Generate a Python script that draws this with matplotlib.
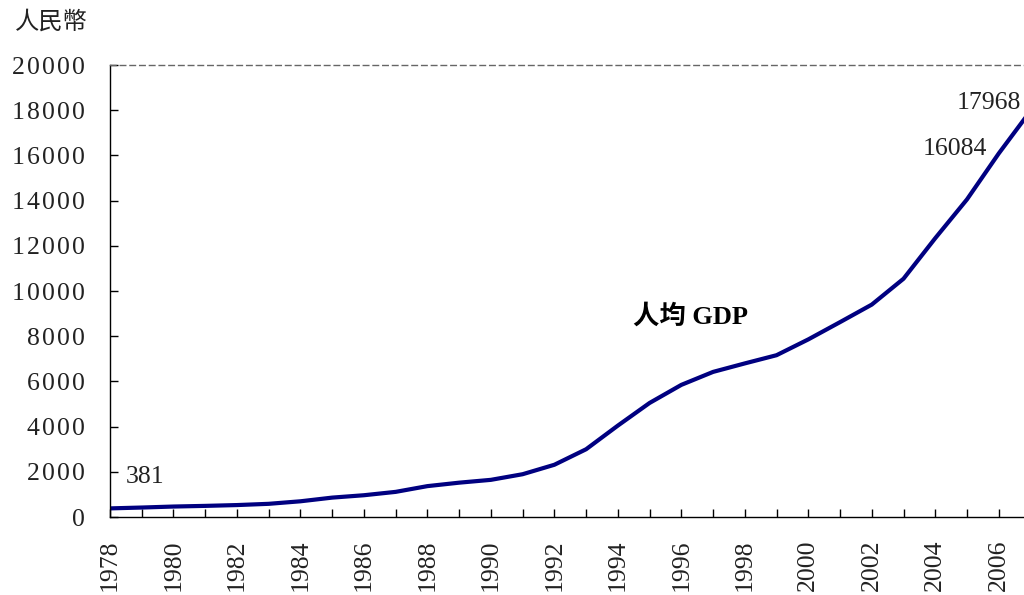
import matplotlib
matplotlib.use("Agg")
import matplotlib.pyplot as plt

# GDP per capita (RMB), 1978-2007
years = list(range(1978, 2008))
gdp_pc = [381, 419, 463, 492, 528, 583, 695, 858, 963, 1112,
          1366, 1519, 1644, 1893, 2311, 2998, 4044, 5046, 5846, 6420,
          6796, 7159, 7858, 8622, 9398, 10542, 12336, 14053, 16084, 17968]
y_ticks = list(range(0, 20001, 2000))
x_ticks = list(range(1978, 2007))
x_labels = [str(y) if y % 2 == 0 else "" for y in x_ticks]

SERIF = ["Liberation Serif", "DejaVu Sans", "Noto Sans CJK TC"]
CJK = ["Noto Sans CJK TC", "DejaVu Sans"]
NAVY = "#000080"
GREY_TXT = "#222222"


def spaced(s):
    # the original font sets its digits wide apart
    return "\u200a".join(s)


fig = plt.figure(figsize=(10.24, 5.95), dpi=100)
ax = fig.add_axes([110 / 1024, 1 - 517 / 595, 914 / 1024, 452 / 595])

ax.plot(years, gdp_pc, color=NAVY, lw=3.0, solid_joinstyle="round")

ax.set_xlim(1978, 1978 + 914 / 31.74)
ax.set_ylim(0, 20000)
ax.set_xticks(x_ticks)
ax.set_xticklabels(x_labels, rotation=90, family=SERIF, fontsize=18.5, color=GREY_TXT)
ax.set_yticks(y_ticks)
ax.set_yticklabels([spaced(str(v)) for v in y_ticks], family=SERIF, fontsize=18.5,
                   color=GREY_TXT)
ax.tick_params(axis="both", direction="in", length=6, width=1, color="black")
ax.tick_params(axis="x", pad=16)
ax.tick_params(axis="y", pad=18)

ax.spines["right"].set_visible(False)
ax.spines["left"].set_linewidth(1)
ax.spines["bottom"].set_linewidth(1)
ax.spines["top"].set_linestyle((0, (4, 3)))
ax.spines["top"].set_color("#666666")
ax.spines["top"].set_linewidth(1)

# annotations
ax.text(1978.5, 1750, "381", family=SERIF, fontsize=18.5, color=GREY_TXT,
        ha="left", va="center")
ax.text(2005.63, 16300, "16084", family=SERIF, fontsize=18.5, color=GREY_TXT,
        ha="right", va="center")
ax.text(2006.7, 18300, "17968", family=SERIF, fontsize=18.5, color=GREY_TXT,
        ha="right", va="center")
ax.text(1996.3, 8900, "人均 GDP", family=SERIF, fontsize=19, fontweight="bold",
        color="black", ha="center", va="center")

fig.text(15 / 1024, 1 - 22 / 595, "人民幣", family=CJK, fontsize=17.5,
         color=GREY_TXT, ha="left", va="center")

fig.savefig("out.png", dpi=100)
